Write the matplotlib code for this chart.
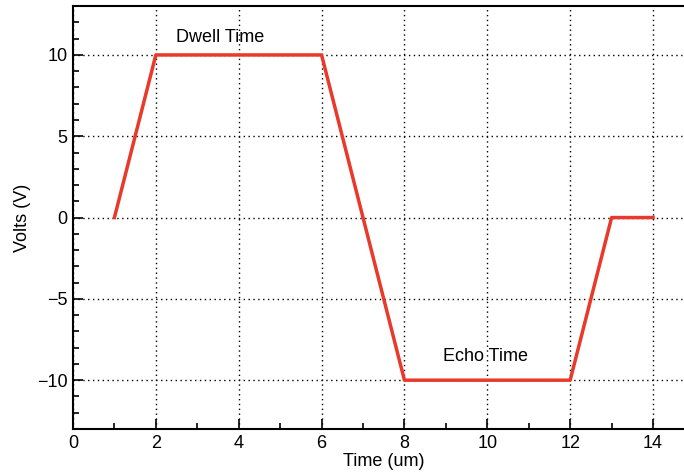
import matplotlib
matplotlib.use('Agg')
import matplotlib.pyplot as plt
from matplotlib.ticker import MultipleLocator

time_us = [1, 2, 6, 8, 12, 13, 14]
volts = [0, 10, 10, -10, -10, 0, 0]


def plot_styling():

    plt.rcParams['font.family'] = ['Liberation Sans', 'DejaVu Sans']
    plt.rcParams['font.size'] = 13
    plt.rcParams['xtick.direction'] = 'in'
    plt.rcParams['ytick.direction'] = 'in'


def main():

    plot_styling()

    fig = plt.figure(figsize=(6.84, 4.74), dpi=100)
    ax = fig.add_axes([0.1067, 0.095, 0.9086, 0.892])

    ax.plot(time_us, volts, color='#e8392a', linewidth=2.5, zorder=3)

    ax.set_xlim(0, 15)
    ax.set_ylim(-13, 13)
    ax.xaxis.set_major_locator(MultipleLocator(2))
    ax.xaxis.set_minor_locator(MultipleLocator(1))
    ax.yaxis.set_major_locator(MultipleLocator(5))
    ax.yaxis.set_minor_locator(MultipleLocator(1))
    ax.yaxis.set_major_formatter(plt.FuncFormatter(lambda v, p: f'{v:.0f}'.replace('-', '\u2212')))

    ax.tick_params(which='major', length=7, width=1.2, labelsize=13)
    ax.tick_params(axis='x', which='major', pad=4)
    ax.tick_params(axis='y', which='major', pad=4)
    ax.tick_params(which='minor', length=4, width=1.2)
    ax.grid(True, which='major', color='black', linestyle=(0, (1, 2.5)), linewidth=1)

    for spine in ax.spines.values():
        spine.set_linewidth(1.5)

    ax.text(3.55, 11.1, 'Dwell Time', ha='center', va='center', fontsize=13)
    ax.text(9.95, -8.55, 'Echo Time', ha='center', va='center', fontsize=13)

    ax.set_xlabel('Time (um)', labelpad=1)
    ax.set_ylabel('Volts (V)', labelpad=4)

    fig.savefig('out.png', dpi=100)


if __name__ == '__main__':

    main()
